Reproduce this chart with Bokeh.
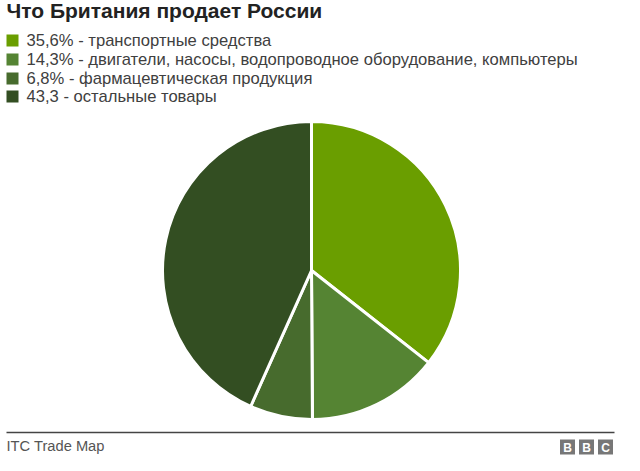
from bokeh.plotting import figure
from bokeh.models import Range1d, ColumnDataSource
from bokeh.core.properties import value
from bokeh.embed import file_html
from bokeh.resources import INLINE
import math

title = "Что Британия продает России"
categories = ["транспортные средства",
              "двигатели, насосы, водопроводное оборудование, компьютеры",
              "фармацевтическая продукция",
              "остальные товары"]
shares = [35.6, 14.3, 6.8, 43.3]
share_labels = ["35,6%", "14,3%", "6,8%", "43,3"]
colors = ["#6a9e00", "#558433", "#476b2d", "#334e22"]
source_text = "ITC Trade Map"

W, H = 624, 455
FONT = "Liberation Sans"

p = figure(width=W, height=H, output_backend="svg", toolbar_location=None,
           x_range=Range1d(0, W), y_range=Range1d(0, H), min_border=0,
           background_fill_color="white", border_fill_color="white")
p.axis.visible = False
p.grid.visible = False
p.outline_line_color = None

def Y(py):
    return H - (py - 8)

def X(px):
    return px - 8

# title
p.text(x=[X(14)], y=[Y(18)], text=[title], text_font=value(FONT), text_font_style="bold",
       text_font_size="21px", text_color="#222222", text_baseline="middle", text_align="left")

# legend
total = sum(shares)
row_y = [48, 67, 86, 104]
labels = [f"{s} - {c}" for s, c in zip(share_labels, categories)]
p.rect(x=[X(20)] * 4, y=[Y(v) for v in row_y], width=12, height=12, fill_color=colors, line_color=None)
p.text(x=[X(34)] * 4, y=[Y(v) for v in row_y], text=labels, text_font=value(FONT),
       text_font_size="16.6px", text_color="#404040", text_baseline="middle", text_align="left")

# pie
cum = [0.0]
for s in shares:
    cum.append(cum[-1] + s / total)
starts = [math.pi / 2 - 2 * math.pi * cum[i] for i in range(4)]
ends = [math.pi / 2 - 2 * math.pi * cum[i + 1] for i in range(4)]
src = ColumnDataSource(dict(start=starts, end=ends, color=colors))
p.wedge(x=X(319), y=Y(278), radius=149, start_angle="start", end_angle="end",
        direction="clock", fill_color="color", line_color="white", line_width=3, source=src)

# footer
p.line(x=[X(14), X(622)], y=[Y(440), Y(440)], line_color="#444444", line_width=1.5)
p.text(x=[X(14)], y=[Y(453)], text=[source_text], text_font=value(FONT),
       text_font_size="14.7px", text_color="#555555", text_baseline="middle", text_align="left")
bx = [575, 594, 613]
p.rect(x=[X(v) for v in bx], y=[Y(454.5)] * 3, width=15, height=15, fill_color="#777777", line_color=None)
p.text(x=[X(v) for v in bx], y=[Y(455)] * 3, text=["B", "B", "C"], text_font=value(FONT),
       text_font_style="bold", text_font_size="12px", text_color="white",
       text_baseline="middle", text_align="center")

open("out.html", "w").write(file_html(p, INLINE))
